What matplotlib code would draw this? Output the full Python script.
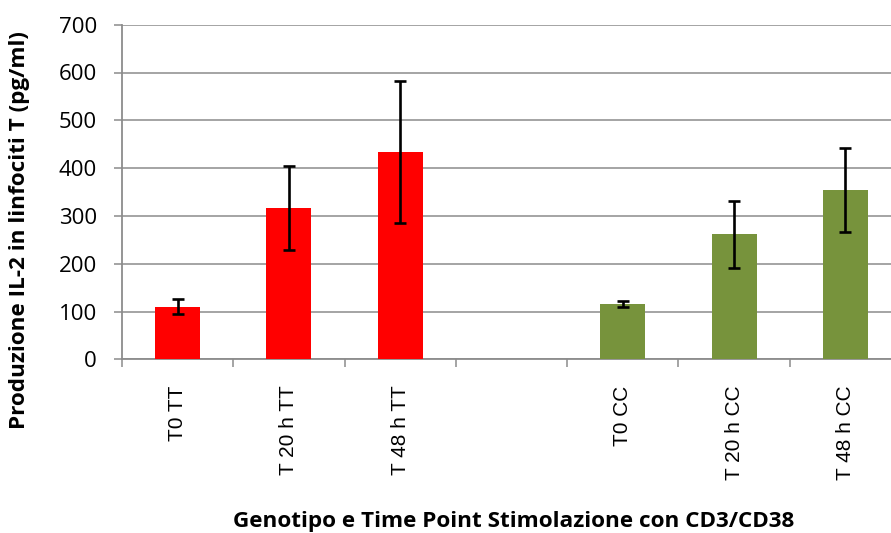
import matplotlib
matplotlib.use("Agg")
import matplotlib.pyplot as plt
import numpy as np

categories = ["T0 TT", "T 20 h TT", "T 48 h TT", "", "T0 CC", "T 20 h CC", "T 48 h CC"]
values = [110, 316, 434, None, 116, 262, 354]
errors = [16, 88, 148, None, 7, 70, 88]
colors = ["#FF0000", "#FF0000", "#FF0000", None, "#77933C", "#77933C", "#77933C"]
yticks = [0, 100, 200, 300, 400, 500, 600, 700]
ylabel = "Produzione IL-2 in linfociti T (pg/ml)"
xlabel = "Genotipo e Time Point Stimolazione con CD3/CD38"

W, H = 891, 533
fig = plt.figure(figsize=(W / 100, H / 100), dpi=100)
ax = fig.add_axes([122 / W, 1 - 359.3 / H, 779 / W, (359.3 - 24.7) / H])

x = np.arange(len(categories))
idx = [i for i, v in enumerate(values) if v is not None]
ax.bar([x[i] for i in idx], [values[i] for i in idx], width=0.405,
       color=[colors[i] for i in idx], zorder=3)
ax.errorbar([x[i] for i in idx], [values[i] for i in idx], yerr=[errors[i] for i in idx],
            fmt="none", ecolor="black", elinewidth=1.9, capsize=4.3, capthick=1.9, zorder=4)

ax.set_xlim(-0.5, len(categories) - 0.5)
ax.set_ylim(0, 700)
ax.set_yticks(yticks)
ax.set_yticklabels([str(t) for t in yticks], fontfamily="Open Sans", fontsize=16)
ax.yaxis.grid(True, color="#8c8c8c", linewidth=1.1, zorder=0)
ax.set_axisbelow(True)

ax.set_xticks(x)
ax.set_xticklabels(categories, rotation=90, va="top", ha="center",
                   fontfamily="Liberation Sans", fontsize=15)
ax.set_xticks(np.arange(-0.5, len(categories), 1.0), minor=True)
ax.tick_params(axis="x", which="major", length=0, pad=19)
ax.tick_params(axis="x", which="minor", length=6, width=1.1, color="#8c8c8c", direction="out")
ax.tick_params(axis="y", length=6, width=1.1, color="#8c8c8c", direction="out", pad=12)

for s in ["top", "right"]:
    ax.spines[s].set_visible(False)
for s in ["left", "bottom"]:
    ax.spines[s].set_color("#8c8c8c")
    ax.spines[s].set_linewidth(1.3)

fig.text(20 / W, 1 - 230 / H, ylabel, rotation=90, ha="center", va="center",
         fontfamily="Open Sans", fontweight="bold", fontsize=16.2)
fig.text(514 / W, 1 - 521 / H, xlabel, ha="center", va="center",
         fontfamily="Open Sans", fontweight="bold", fontsize=16.2)

fig.savefig("out.png", dpi=100)
